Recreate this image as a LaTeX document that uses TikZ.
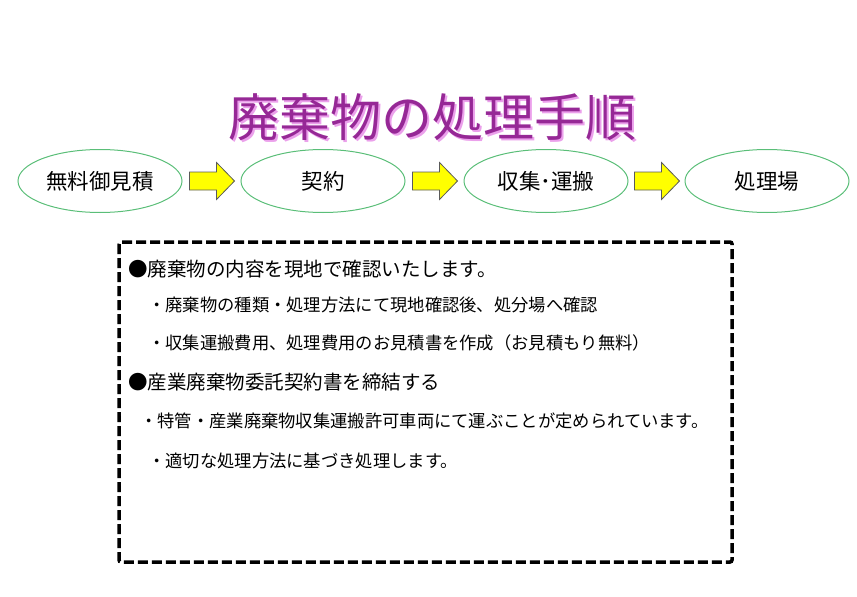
\documentclass[tikz,border=0pt]{standalone}
\usepackage{fontspec}
\setmainfont{Noto Sans CJK JP}
\newfontfamily\jp{Noto Sans CJK JP}
\usetikzlibrary{shapes.geometric,calc}
\definecolor{ellgreen}{RGB}{90,190,120}
\definecolor{ttlpurple}{RGB}{150,40,150}
\definecolor{ttlpink}{RGB}{235,160,235}
\definecolor{arrowyellow}{RGB}{255,255,0}
\definecolor{arrowedge}{RGB}{90,90,90}
\newcommand{\blockarrow}[1]{%
  \draw[draw=arrowedge,fill=arrowyellow,line width=0.8pt,line join=miter]
    ($(#1)+(-22.5,-9)$) -- ($(#1)+(4.5,-9)$) -- ($(#1)+(4.5,-18.5)$) --
    ($(#1)+(22.5,0)$) -- ($(#1)+(4.5,18.5)$) -- ($(#1)+(4.5,9)$) --
    ($(#1)+(-22.5,9)$) -- cycle;}
\begin{document}
\begin{tikzpicture}[x=1pt,y=-1pt,
  stepell/.style={draw=ellgreen,line width=1pt,ellipse,minimum width=164pt,minimum height=63pt,inner sep=0pt,font=\jp\fontsize{21.5}{24}\selectfont},
  headline/.style={anchor=west,inner sep=0pt,font=\jp\fontsize{19.5}{22}\selectfont},
  subline/.style={anchor=west,inner sep=0pt,font=\jp\fontsize{17.3}{20}\selectfont},
]
\useasboundingbox (0,0) rectangle (857,597);
% title
\node[text=ttlpink,font=\jp\fontsize{51}{56}\selectfont,inner sep=0pt] (titleshadow) at (434.5,119.5) {廃棄物の処理手順};
\node[text=ttlpurple,font=\jp\fontsize{51}{56}\selectfont,inner sep=0pt] (title) at (432,117) {廃棄物の処理手順};
% steps
\node[stepell] (s1) at (100,181) {無料御見積};
\node[stepell] (s2) at (323,181) {契約};
\node[stepell] (s3) at (546,181) {収集･運搬};
\node[stepell] (s4) at (767,181) {処理場};
% arrows
\coordinate (a1) at ($(s1.east)!0.5!(s2.west)+(0.5,0)$);
\coordinate (a2) at ($(s2.east)!0.5!(s3.west)+(0.5,0)$);
\coordinate (a3) at ($(s3.east)!0.5!(s4.west)+(0.5,0)$);
\blockarrow{a1}
\blockarrow{a2}
\blockarrow{a3}
% dashed box
\draw[line width=3.5pt,dash pattern=on 10pt off 4pt,rounded corners=2pt] (119,242) rectangle (732,562);
% text
\node[headline] (t1) at (128,269) {●廃棄物の内容を現地で確認いたします。};
\node[subline] (t2) at (148,305) {・廃棄物の種類・処理方法にて現地確認後、処分場へ確認};
\node[subline] (t3) at (148,343) {・収集運搬費用、処理費用のお見積書を作成（お見積もり無料）};
\node[headline] (t4) at (128,382) {●産業廃棄物委託契約書を締結する};
\node[subline] (t5) at (140,421) {・特管・産業廃棄物収集運搬許可車両にて運ぶことが定められています。};
\node[subline] (t6) at (148,461) {・適切な処理方法に基づき処理します。};
\end{tikzpicture}
\end{document}
